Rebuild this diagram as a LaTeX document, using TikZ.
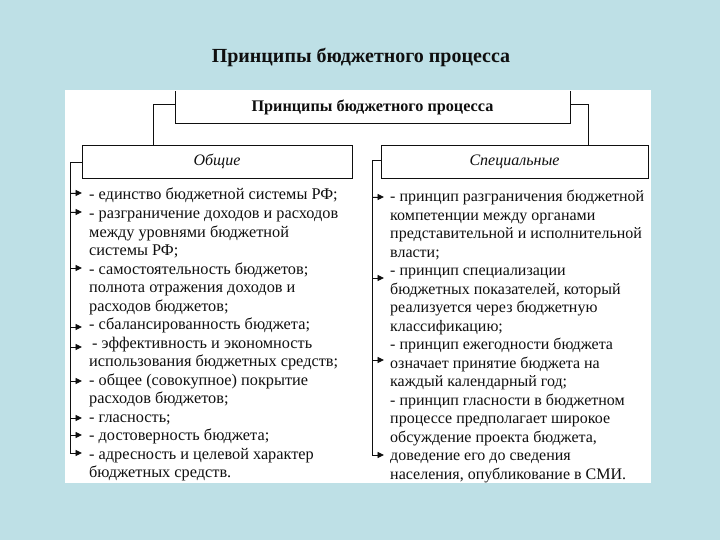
\documentclass[tikz,border=0pt]{standalone}
\usepackage{fontspec}
\setmainfont{Liberation Serif}
\usetikzlibrary{arrows.meta}
\definecolor{bg}{RGB}{190,224,230}
\definecolor{ink}{RGB}{15,15,15}
\begin{document}
\begin{tikzpicture}[x=1pt,y=-1pt,
  box/.style={draw=ink,line width=0.9pt,inner sep=0pt,minimum height=33pt},
  itemtext/.style={anchor=base west,inner sep=0pt,text=ink,font=\fontsize{16.3}{18}\selectfont},
  ritemtext/.style={itemtext,font=\fontsize{16}{18}\selectfont},
  link/.style={draw=ink,line width=0.9pt},
  arr/.style={draw=ink,fill=ink,line width=0.9pt,-{Triangle[length=6.5pt,width=6pt]}},
  headtext/.style={font=\itshape\fontsize{16}{18}\selectfont,text=ink}]
\useasboundingbox (0,0) rectangle (720,540);
\fill[bg] (0,0) rectangle (720,540);
\fill[white] (65,90) rectangle (651,483);
\node[font=\bfseries\fontsize{20}{22}\selectfont,text=ink] (title) at (361,57) {Принципы бюджетного процесса};
\begin{scope}
\clip (65,91.5) rectangle (651,483);
\node[box,minimum width=395pt,font=\bfseries\fontsize{16.2}{18}\selectfont,text=ink] (top) at (372.5,107) {Принципы бюджетного процесса};
\end{scope}
\node[box,minimum width=270pt,headtext] (obs) at (217,161.5) {Общие};
\node[box,minimum width=267pt,headtext] (spec) at (514.5,161.5) {Специальные};
\draw[link] ([yshift=3pt]top.west) -| ([xshift=-64pt]obs.north);
\draw[link] ([yshift=3pt]top.east) -| ([xshift=73.5pt]spec.north);
% left bracket
\coordinate (lbt) at (70,162);
\coordinate (lbb) at (70,453);
\draw[link] (obs.west |- lbt) -- (lbt) -- (lbb);
\foreach \y [count=\i] in {193,212,268,327,347,381,418,435,453}{
  \coordinate (lt\i) at (70,\y);
  \coordinate (lh\i) at (82,\y);
  \draw[arr] (lt\i) -- (lh\i);
}
% right bracket
\coordinate (rbt) at (372,160);
\coordinate (rbb) at (372,455);
\draw[link] (spec.west |- rbt) -- (rbt) -- (rbb);
\foreach \y [count=\i] in {197,278,360,455}{
  \coordinate (rt\i) at (372,\y);
  \coordinate (rh\i) at (384,\y);
  \draw[arr] (rt\i) -- (rh\i);
}
% left items
\foreach \t [count=\i] in {
  {- единство бюджетной системы РФ;},
  {- разграничение доходов и расходов},
  {между уровнями бюджетной},
  {системы РФ;},
  {- самостоятельность бюджетов;},
  {полнота отражения доходов и},
  {расходов бюджетов;},
  {- сбалансированность бюджета;},
  {\hspace{3pt}- эффективность и экономность},
  {использования бюджетных средств;},
  {- общее (совокупное) покрытие},
  {расходов бюджетов;},
  {- гласность;},
  {- достоверность бюджета;},
  {- адресность и целевой характер},
  {бюджетных средств.}}{
  \node[itemtext] (l\i) at (89,{200+(\i-1)*18.53}) {\t};
}
% right items
\foreach \t [count=\i] in {
  {- принцип разграничения бюджетной},
  {компетенции между органами},
  {представительной и исполнительной},
  {власти;},
  {- принцип специализации},
  {бюджетных показателей, который},
  {реализуется через бюджетную},
  {классификацию;},
  {- принцип ежегодности бюджета},
  {означает принятие бюджета на},
  {каждый календарный год;},
  {- принцип гласности в бюджетном},
  {процессе предполагает широкое},
  {обсуждение проекта бюджета,},
  {доведение его до сведения},
  {населения, опубликование в СМИ.}}{
  \node[ritemtext] (r\i) at (390,{202+(\i-1)*18.47}) {\t};
}
\end{tikzpicture}
\end{document}
